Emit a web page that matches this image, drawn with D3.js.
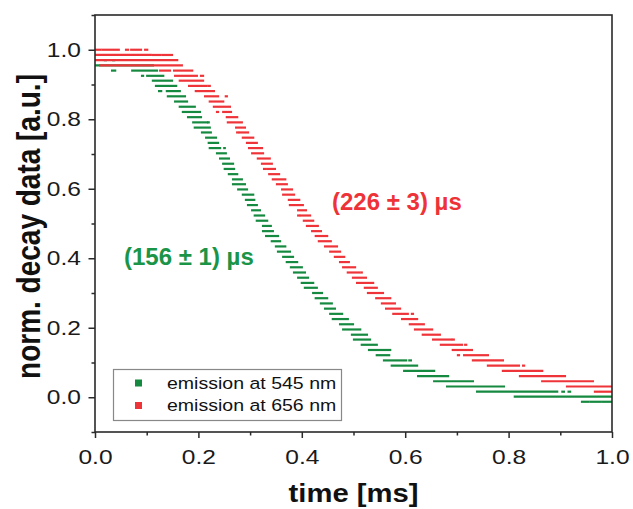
<!DOCTYPE html>
<html><head><meta charset="utf-8">
<script src="https://cdn.jsdelivr.net/npm/d3@7"></script>
<style>
html,body{margin:0;padding:0;background:#fff;}
svg text{font-family:"Liberation Sans",Arial,Helvetica,sans-serif;}
</style></head>
<body><svg id="chart" width="633" height="509"></svg>
<script>
// ---- data ----
// each entry: [normalised decay value, time start (ms), time end (ms)]
const greenSegments = [
 [0.970,0.019,0.021],[0.970,0.035,0.037],
 [0.955,0.000,0.112],
 [0.940,0.033,0.039],[0.940,0.072,0.120],
 [0.925,0.091,0.093],[0.925,0.101,0.132],
 [0.911,0.112,0.149],
 [0.896,0.118,0.157],
 [0.881,0.124,0.128],[0.881,0.139,0.164],
 [0.866,0.141,0.145],[0.866,0.149,0.174],
 [0.851,0.155,0.178],
 [0.836,0.164,0.193],
 [0.821,0.170,0.203],
 [0.806,0.180,0.205],
 [0.791,0.190,0.217],[0.791,0.219,0.220],
 [0.776,0.193,0.222],
 [0.762,0.207,0.224],
 [0.747,0.215,0.234],
 [0.732,0.220,0.238],
 [0.717,0.222,0.242],[0.717,0.250,0.251],
 [0.702,0.236,0.253],
 [0.687,0.242,0.259],
 [0.672,0.248,0.267],
 [0.657,0.251,0.269],
 [0.642,0.259,0.275],
 [0.627,0.267,0.284],
 [0.613,0.267,0.290],
 [0.598,0.277,0.294],
 [0.583,0.286,0.306],
 [0.568,0.292,0.308],
 [0.553,0.296,0.313],
 [0.538,0.304,0.319],
 [0.523,0.309,0.327],
 [0.508,0.313,0.333],
 [0.493,0.325,0.340],
 [0.478,0.325,0.344],
 [0.464,0.331,0.354],
 [0.449,0.342,0.358],
 [0.434,0.350,0.368],
 [0.419,0.354,0.377],
 [0.404,0.364,0.383],
 [0.389,0.371,0.391],
 [0.374,0.379,0.400],
 [0.359,0.385,0.406],
 [0.344,0.393,0.412],
 [0.329,0.400,0.422],
 [0.315,0.406,0.429],
 [0.300,0.422,0.439],
 [0.285,0.427,0.449],
 [0.270,0.437,0.458],
 [0.255,0.445,0.464],
 [0.240,0.455,0.478],
 [0.225,0.460,0.489],
 [0.210,0.474,0.499],
 [0.195,0.480,0.513],
 [0.180,0.497,0.526],
 [0.166,0.501,0.532],
 [0.151,0.516,0.545],
 [0.136,0.530,0.571],
 [0.121,0.545,0.569],
 [0.106,0.559,0.602],[0.106,0.608,0.611],
 [0.091,0.574,0.623],
 [0.076,0.598,0.656],
 [0.061,0.625,0.683],
 [0.046,0.656,0.731],
 [0.031,0.681,0.791],
 [0.016,0.739,0.894],[0.016,0.904,0.907],[0.016,0.916,0.919],
 [0.002,0.812,1.000],
 [-0.013,0.942,0.954],[-0.013,0.958,0.977],[-0.013,0.981,1.000]
];
const redSegments = [
 [1.000,0.000,0.010],[1.000,0.014,0.046],[1.000,0.060,0.064],[1.000,0.070,0.089],[1.000,0.097,0.101],
 [0.985,0.000,0.108],[0.985,0.112,0.126],[0.985,0.130,0.141],[0.985,0.145,0.149],
 [0.970,0.000,0.159],
 [0.955,0.010,0.168],
 [0.940,0.126,0.145],[0.940,0.153,0.188],
 [0.925,0.155,0.197],[0.925,0.205,0.209],
 [0.911,0.164,0.209],
 [0.896,0.182,0.215],[0.896,0.219,0.222],
 [0.881,0.195,0.230],
 [0.866,0.213,0.238],[0.866,0.253,0.255],
 [0.851,0.222,0.248],
 [0.836,0.230,0.261],
 [0.821,0.236,0.238],[0.821,0.248,0.263],
 [0.806,0.255,0.275],
 [0.791,0.257,0.284],
 [0.776,0.273,0.290],
 [0.762,0.275,0.277],[0.762,0.280,0.296],
 [0.747,0.286,0.306],
 [0.732,0.294,0.313],
 [0.717,0.298,0.323],
 [0.702,0.304,0.325],
 [0.687,0.315,0.338],
 [0.672,0.323,0.342],
 [0.657,0.327,0.329],[0.657,0.333,0.348],
 [0.642,0.337,0.356],
 [0.627,0.344,0.368],
 [0.613,0.352,0.371],
 [0.598,0.362,0.381],
 [0.583,0.364,0.385],
 [0.568,0.375,0.395],
 [0.553,0.377,0.402],
 [0.538,0.393,0.408],
 [0.523,0.393,0.395],[0.523,0.398,0.416],
 [0.508,0.404,0.422],
 [0.493,0.410,0.431],
 [0.478,0.420,0.437],
 [0.464,0.427,0.449],
 [0.449,0.433,0.456],
 [0.434,0.445,0.468],
 [0.419,0.455,0.474],
 [0.404,0.464,0.482],
 [0.389,0.474,0.491],
 [0.374,0.480,0.503],
 [0.359,0.489,0.511],[0.359,0.515,0.516],
 [0.344,0.499,0.524],
 [0.329,0.507,0.538],
 [0.315,0.522,0.545],
 [0.300,0.528,0.557],
 [0.285,0.544,0.571],
 [0.270,0.555,0.580],
 [0.255,0.563,0.590],
 [0.240,0.577,0.605],[0.240,0.613,0.615],
 [0.225,0.594,0.623],
 [0.210,0.609,0.636],
 [0.195,0.619,0.652],
 [0.180,0.634,0.667],
 [0.166,0.654,0.689],[0.166,0.692,0.694],
 [0.151,0.669,0.710],[0.151,0.716,0.718],
 [0.136,0.692,0.729],
 [0.121,0.702,0.704],[0.121,0.714,0.760],
 [0.106,0.731,0.789],
 [0.091,0.760,0.820],[0.091,0.828,0.830],
 [0.076,0.789,0.865],
 [0.061,0.822,0.909],
 [0.046,0.865,0.963],
 [0.031,0.913,1.000],
 [0.016,0.967,0.973],[0.016,0.977,1.000]
];
const seriesNames = ["emission at 545 nm","emission at 656 nm"];
const seriesColors = ["#15893f","#ef3439"];
const lifetimeLabels = ["(156 \u00b1 1) \u00b5s","(226 \u00b1 3) \u00b5s"];
const xMajorTicks = [0,0.2,0.4,0.6,0.8,1.0];
const xMinorTicks = [0.1,0.3,0.5,0.7,0.9];
const yMajorTicks = [0,0.2,0.4,0.6,0.8,1.0];
const yMinorTicks = [-0.1,0.1,0.3,0.5,0.7,0.9,1.1];
const xTitle = "time [ms]";
const yTitle = "norm. decay data [a.u.]";

// ---- layout ----
const SX = 1.17; // horizontal glyph stretch seen in the reference
const svg = d3.select("#chart");
const L = 95, R = 612, T = 15, B = 432;
const x = d3.scaleLinear().domain([0,1]).range([L,R]);
const y = d3.scaleLinear().domain([-0.1,1.1]).range([B,T]);

svg.append("defs").append("clipPath").attr("id","clip")
  .append("rect").attr("x",L).attr("y",T).attr("width",R-L).attr("height",B-T);

const plot = svg.append("g").attr("clip-path","url(#clip)");
[greenSegments, redSegments].forEach((segs,i)=>{
  plot.append("g").selectAll("line").data(segs).join("line")
    .attr("x1",d=>x(d[1])).attr("x2",d=>x(d[2]))
    .attr("y1",d=>y(d[0])).attr("y2",d=>y(d[0]))
    .attr("stroke",seriesColors[i]).attr("stroke-width",2.2)
    .attr("stroke-linecap","square");
});

// frame
svg.append("rect").attr("x",L).attr("y",T).attr("width",R-L).attr("height",B-T)
  .attr("fill","none").attr("stroke","#2a2a2a").attr("stroke-width",1.6);

const fmt = d3.format(".1f");
svg.append("g").attr("transform",`translate(0,${B})`)
  .call(d3.axisBottom(x).tickValues(xMajorTicks).tickFormat(fmt).tickSize(6).tickSizeOuter(0).tickPadding(11))
  .selectAll(".tick text").attr("transform",`scale(${SX},1)`);
svg.append("g").attr("transform",`translate(0,${B})`)
  .call(d3.axisBottom(x).tickValues(xMinorTicks).tickFormat("").tickSize(3.5).tickSizeOuter(0));
svg.append("g").attr("transform",`translate(${L},0)`)
  .call(d3.axisLeft(y).tickValues(yMajorTicks).tickFormat(fmt).tickSize(6.5).tickSizeOuter(0))
  .selectAll(".tick text").attr("x",-14/SX).attr("transform",`scale(${SX},1)`);
svg.append("g").attr("transform",`translate(${L},0)`)
  .call(d3.axisLeft(y).tickValues(yMinorTicks).tickFormat("").tickSize(3.5).tickSizeOuter(0));
svg.selectAll(".domain").remove();
svg.selectAll(".tick line").attr("stroke","#2a2a2a").attr("stroke-width",1.5);
svg.selectAll(".tick text").attr("font-size",21).attr("fill","#1a1a1a")
  .attr("font-family","'Liberation Sans',Arial,sans-serif");

// titles
svg.append("text").attr("transform",`translate(${(L+R)/2},502) scale(${SX},1)`)
  .attr("text-anchor","middle").attr("font-size",25).attr("font-weight","bold")
  .attr("fill","#111").text(xTitle);
svg.append("text").attr("transform",`translate(40,${(T+B)/2+3}) scale(${SX},1) rotate(-90)`)
  .attr("text-anchor","middle").attr("font-size",28).attr("font-weight","bold")
  .attr("fill","#111").text(yTitle);

// lifetime annotations
svg.append("text").attr("x",124).attr("y",265).attr("font-size",24).attr("font-weight","bold")
  .attr("fill","#1a9447").text(lifetimeLabels[0]);
svg.append("text").attr("x",332).attr("y",210).attr("font-size",24).attr("font-weight","bold")
  .attr("fill","#ee3338").text(lifetimeLabels[1]);

// legend
const lg = svg.append("g");
lg.append("rect").attr("x",113.5).attr("y",369.5).attr("width",228).attr("height",51)
  .attr("fill","#fff").attr("stroke","#888").attr("stroke-width",1.2);
seriesNames.forEach((n,i)=>{
  const cy = 383 + i*22.5;
  lg.append("rect").attr("x",135).attr("y",cy-3.5).attr("width",7).attr("height",7)
    .attr("fill",seriesColors[i]);
  lg.append("text").attr("transform",`translate(167,${cy+5.5}) scale(${SX},1)`)
    .attr("font-size",16.7).attr("fill","#111").text(n);
});
</script></body></html>
